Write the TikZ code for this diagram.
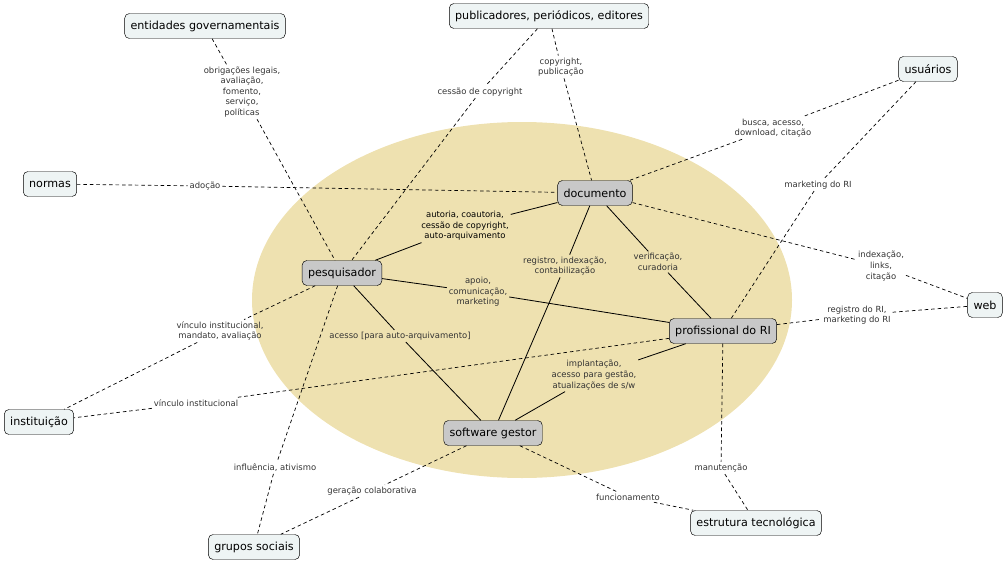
\documentclass[tikz,border=0pt]{standalone}
\usepackage{fontspec}
\setmainfont{DejaVu Sans}
\begin{document}
\begin{tikzpicture}[x=0.03cm,y=-0.03cm,
 box/.style={draw=black,rounded corners=4pt,fill=boxc,font=\fontsize{9.5}{11}\selectfont,inner xsep=5pt,minimum height=0.75cm},
 core/.style={box,fill=corec},
 lab/.style={font=\fontsize{7.2}{9}\selectfont,text=labc,align=center,inner sep=1.5pt},
 dsh/.style={draw=black,dash pattern=on 3pt off 2.5pt,line width=0.6pt},
 sol/.style={draw=black,line width=0.7pt}]
\definecolor{boxc}{HTML}{EEF4F4}
\definecolor{corec}{HTML}{C8C8C8}
\definecolor{labc}{HTML}{333333}
\definecolor{ell}{HTML}{EEE1B0}
\useasboundingbox (0,0) rectangle (1007,563);
\fill[ell] (522,300) ellipse [x radius=270, y radius=178];
\node[box] (ent) at (205,26) {entidades governamentais};
\node[box] (pub) at (549,16) {publicadores, periódicos, editores};
\node[box] (usu) at (928,69) {usuários};
\node[box] (nor) at (50,184) {normas};
\node[core] (doc) at (595,193) {documento};
\node[core] (pes) at (342,273) {pesquisador};
\node[box] (web) at (985,305) {web};
\node[core] (pro) at (723,331) {profissional do RI};
\node[box] (ins) at (39,422) {instituição};
\node[core] (sof) at (493,433) {software gestor};
\node[box] (est) at (756,523) {estrutura tecnológica};
\node[box] (gru) at (254,547) {grupos sociais};

\node[lab] (l1) at (242,92) {obrigações legais,\\avaliação,\\fomento,\\serviço,\\políticas};
\node[lab] (l2) at (480,92) {cessão de copyright};
\node[lab] (l3) at (561,67) {copyright,\\publicação};
\node[lab] (l4) at (773,128) {busca, acesso,\\download, citação};
\node[lab] (l5) at (818,185) {marketing do RI};
\node[lab] (l6) at (205,186) {adoção};
\node[lab,text=black] (l7) at (465,226) {autoria, coautoria,\\cessão de copyright,\\auto-arquivamento};
\node[lab] (l8) at (565,266) {registro, indexação,\\contabilização};
\node[lab] (l9) at (658,262) {verificação,\\curadoria};
\node[lab] (l10) at (881,266) {indexação,\\links,\\citação};
\node[lab] (l11) at (478,292) {apoio,\\comunicação,\\marketing};
\node[lab] (l12) at (400,336) {acesso [para auto-arquivamento]};
\node[lab] (l13) at (220,331) {vínculo institucional,\\mandato, avaliação};
\node[lab] (l14) at (275,468) {influência, ativismo};
\node[lab] (l15) at (857,315) {registro do RI,\\marketing do RI};
\node[lab] (l16) at (196,403) {vínculo institucional};
\node[lab] (l17) at (594,375) {implantação,\\acesso para gestão,\\atualizações de s/w};
\node[lab] (l18) at (721,468) {manutenção};
\node[lab] (l19) at (372,491) {geração colaborativa};
\node[lab] (l20) at (628,497) {funcionamento};

\draw[dsh] (ent) -- (l1) -- (pes);
\draw[dsh] (pub) -- (l2) -- (pes);
\draw[dsh] (pub) -- (l3) -- (doc);
\draw[dsh] (usu) -- (l4) -- (doc);
\draw[dsh] (usu) -- (l5) -- (pro);
\draw[dsh] (nor) -- (l6) -- (doc);
\draw[sol] (doc) -- (l7) -- (pes);
\draw[sol] (doc) -- (l8) -- (sof);
\draw[sol] (doc) -- (l9) -- (pro);
\draw[dsh] (doc) -- (l10) -- (web);
\draw[sol] (pes) -- (l11) -- (pro);
\draw[sol] (pes) -- (l12) -- (sof);
\draw[dsh] (pes) -- (l13) -- (ins);
\draw[dsh] (pes) -- (l14) -- (gru);
\draw[dsh] (pro) -- (l15) -- (web);
\draw[dsh] (pro) -- (l16) -- (ins);
\draw[sol] (pro) -- (l17) -- (sof);
\draw[dsh] (pro) -- (l18) -- (est);
\draw[dsh] (sof) -- (l19) -- (gru);
\draw[dsh] (sof) -- (l20) -- (est);
\end{tikzpicture}
\end{document}
